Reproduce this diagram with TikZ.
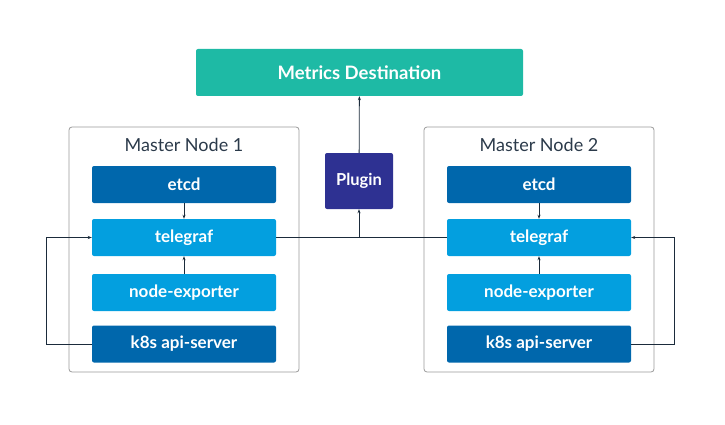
\documentclass[tikz,border=0pt]{standalone}
\usepackage{fontspec}
\setmainfont{Lato}
\usetikzlibrary{arrows.meta,positioning,calc}

\definecolor{darkblue}{HTML}{0067AC}
\definecolor{lightblue}{HTML}{039FDF}
\definecolor{teal}{HTML}{1EBAA5}
\definecolor{indigo}{HTML}{2E3192}
\definecolor{edge}{HTML}{1B2B3B}
\definecolor{frame}{HTML}{9A9A9A}
\definecolor{titletext}{HTML}{2B3A4A}

\begin{document}
\begin{tikzpicture}[x=1pt, y=-1pt,
    comp/.style={rectangle, rounded corners=2pt, minimum width=184pt, minimum height=37pt, inner sep=0pt, text=white, font=\fontsize{17}{19}\selectfont\bfseries},
    master/.style={rectangle, draw=frame, line width=0.8pt, rounded corners=3pt, minimum width=230pt, minimum height=245pt, inner sep=0pt},
    link/.style={draw=edge, line width=0.8pt, -{Stealth[length=4pt, width=3pt]}},
]
    \useasboundingbox (0,0) rectangle (725,425);
    % destination and plugin
    \node[comp, fill=teal, minimum width=327pt, minimum height=47pt, font=\fontsize{18.5}{20}\selectfont\bfseries] (dest) at (359.5,72.5) {Metrics Destination};
    \node[comp, fill=indigo, minimum width=68pt, minimum height=56pt, font=\fontsize{16.5}{18}\selectfont\bfseries] (plugin) at (359,181) {Plugin};

    % master node 1
    \node[master] (m1) at (184,249.5) {};
    \node[text=titletext, font=\fontsize{18}{20}\selectfont] (title1) at (184,145) {Master Node 1};
    \node[comp, fill=darkblue] (etcd1) at (184,184.5) {etcd};
    \node[comp, fill=lightblue] (tel1) at (184,237.5) {telegraf};
    \node[comp, fill=lightblue] (nexp1) at (184,292.5) {node-exporter};
    \node[comp, fill=darkblue] (api1) at (184,344) {k8s api-server};

    % master node 2
    \node[master] (m2) at (539,249.5) {};
    \node[text=titletext, font=\fontsize{18}{20}\selectfont] (title2) at (539,145) {Master Node 2};
    \node[comp, fill=darkblue] (etcd2) at (539,184.5) {etcd};
    \node[comp, fill=lightblue] (tel2) at (539,237.5) {telegraf};
    \node[comp, fill=lightblue] (nexp2) at (539,292.5) {node-exporter};
    \node[comp, fill=darkblue] (api2) at (539,344) {k8s api-server};

    \coordinate (join) at (plugin.south |- tel1.east);
    \coordinate (left) at (46,0);
    \coordinate (right) at (674,0);

    % connectors
    \draw[link] (etcd1) -- (tel1);
    \draw[link] (nexp1) -- (tel1);
    \draw[link] (etcd2) -- (tel2);
    \draw[link] (nexp2) -- (tel2);
    \draw[draw=edge, line width=0.8pt] (tel1.east) -- (tel2.west);
    \draw[link] (join) -- (plugin.south);
    \draw[link] (plugin) -- (dest);
    \draw[link] (api1.west) -| (left |- tel1.west) -- (tel1.west);
    \draw[link] (api2.east) -| (right |- tel2.east) -- (tel2.east);
\end{tikzpicture}
\end{document}
